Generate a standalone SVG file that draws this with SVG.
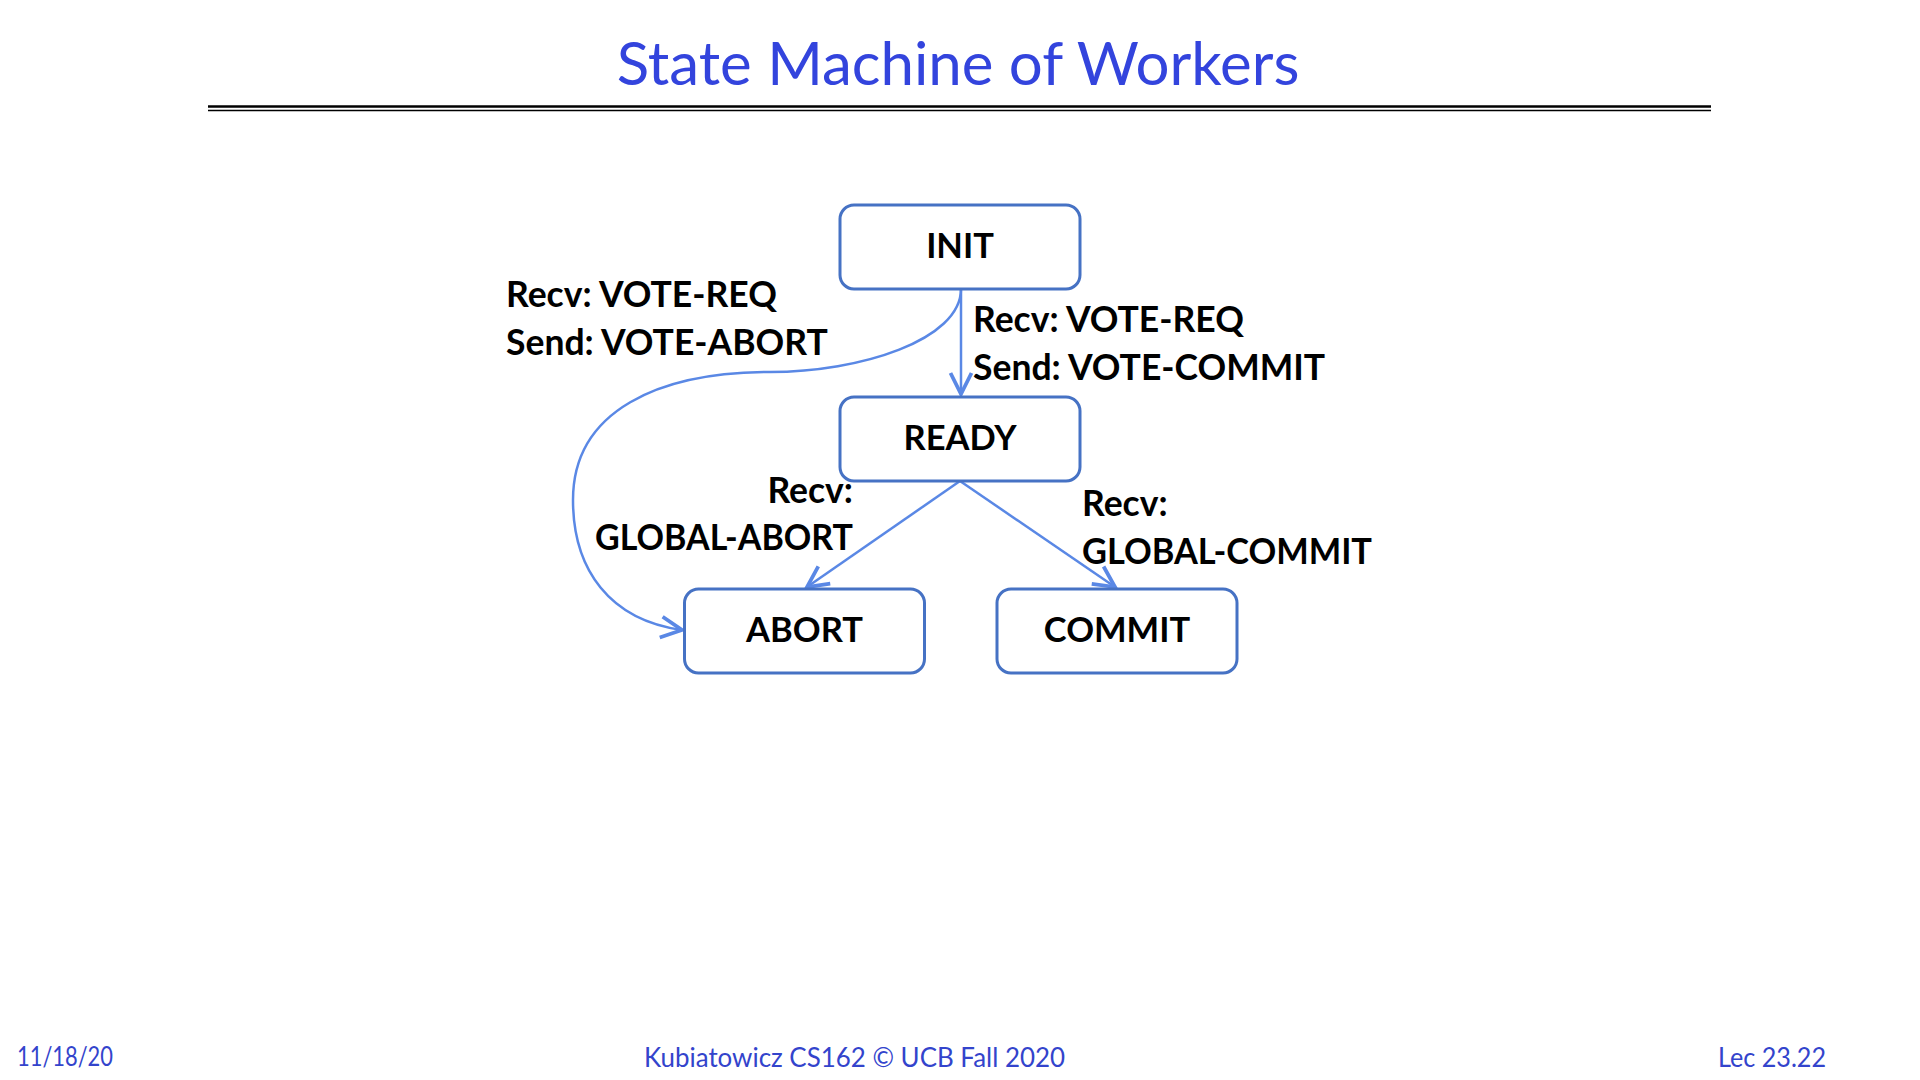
<svg xmlns="http://www.w3.org/2000/svg" width="1920" height="1080" viewBox="0 0 1920 1080">
  <defs>
    <marker id="arrow" markerUnits="userSpaceOnUse" markerWidth="30" markerHeight="30" viewBox="-16 -10 20 20" refX="0" refY="0" orient="auto">
      <path d="M -14 -7 L 0 0 L -14 7" fill="none" stroke="#5a88e5" stroke-width="2.5" stroke-linejoin="miter"/>
    </marker>
  </defs>
  <style>
    .title { font-family: Lato, "Open Sans", sans-serif; font-size: 60px; fill: #3344dd; }
    .foot { font-family: Lato, "Open Sans", sans-serif; font-size: 27px; fill: #3344cc; }
    .node rect { fill: #ffffff; stroke: #4672c4; stroke-width: 3; }
    .node text { font-family: Lato, "Liberation Sans", sans-serif; font-weight: bold; font-size: 34.5px; fill: #000000; text-anchor: middle; }
    .lbl { font-family: Lato, "Liberation Sans", sans-serif; font-weight: bold; font-size: 35.5px; fill: #000000; }
    .conn { fill: none; stroke: #5a88e5; stroke-width: 2.5; marker-end: url(#arrow); }
  </style>
  <rect x="0" y="0" width="1920" height="1080" fill="#ffffff"/>

  <text class="title" x="958" y="85" text-anchor="middle">State Machine of Workers</text>
  <line x1="208" y1="106.5" x2="1711" y2="106.5" stroke="#000" stroke-width="2.5"/>
  <line x1="208" y1="110.5" x2="1711" y2="110.5" stroke="#000" stroke-width="1.5"/>

  <g id="connectors">
    <path id="c-init-ready" class="conn" d="M 961 289 L 961 394"/>
    <path id="c-init-abort" class="conn" d="M 961 289 C 961 340, 860 372, 770 372 C 660 372, 573 410, 573 500 C 573 570, 610 620, 682 630"/>
    <path id="c-ready-abort" class="conn" d="M 960 481 L 807 587"/>
    <path id="c-ready-commit" class="conn" d="M 960 481 L 1115 587"/>
  </g>

  <g id="node-init" class="node">
    <rect x="840" y="205" width="240" height="84" rx="14" ry="14"/>
    <text x="960" y="258">INIT</text>
  </g>
  <g id="node-ready" class="node">
    <rect x="840" y="397" width="240" height="84" rx="14" ry="14"/>
    <text x="960" y="450">READY</text>
  </g>
  <g id="node-abort" class="node">
    <rect x="684.5" y="589" width="240" height="84" rx="14" ry="14"/>
    <text x="804.5" y="642">ABORT</text>
  </g>
  <g id="node-commit" class="node">
    <rect x="997" y="589" width="240" height="84" rx="14" ry="14"/>
    <text x="1117" y="642">COMMIT</text>
  </g>

  <g id="labels">
    <text class="lbl" x="506" y="307">Recv: VOTE-REQ</text>
    <text class="lbl" x="506" y="355">Send: VOTE-ABORT</text>
    <text class="lbl" x="973" y="332">Recv: VOTE-REQ</text>
    <text class="lbl" x="973" y="380">Send: VOTE-COMMIT</text>
    <text class="lbl" x="853" y="503" text-anchor="end">Recv:</text>
    <text class="lbl" x="595" y="550" textLength="258" lengthAdjust="spacingAndGlyphs">GLOBAL-ABORT</text>
    <text class="lbl" x="1082" y="516">Recv:</text>
    <text class="lbl" x="1082" y="564" textLength="290" lengthAdjust="spacingAndGlyphs">GLOBAL-COMMIT</text>
  </g>

  <text class="foot" x="17" y="1066" textLength="96" lengthAdjust="spacingAndGlyphs">11/18/20</text>
  <text class="foot" x="644" y="1067" textLength="421" lengthAdjust="spacingAndGlyphs">Kubiatowicz CS162 © UCB Fall 2020</text>
  <text class="foot" x="1718" y="1067" textLength="108" lengthAdjust="spacingAndGlyphs">Lec 23.22</text>
</svg>
